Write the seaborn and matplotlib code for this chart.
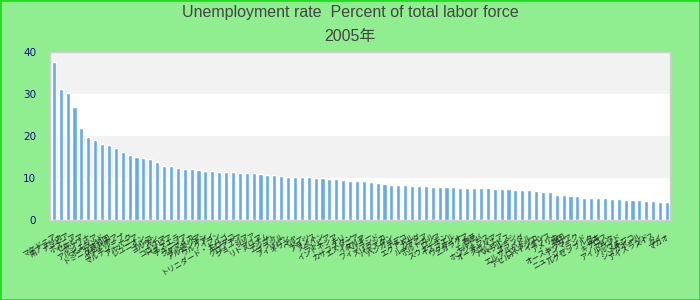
import matplotlib
matplotlib.use("Agg")
import matplotlib.pyplot as plt
from matplotlib.patches import Rectangle
import seaborn as sns
import pandas as pd

title_line1 = "Unemployment rate  Percent of total labor force"
title_line2 = "2005年"

countries = [
    "マケドニア", "南アフリカ", "ナミビア", "ボスニア", "セルビア",
    "ボツワナ", "アルジェリア", "ポーランド", "ドミニカ共和国", "スロバキア",
    "グアドループ", "マルティニーク", "アルバニア", "レユニオン", "トルコ",
    "ヨルダン", "パナマ", "コロンビア", "ベネズエラ", "チュニジア",
    "ジャマイカ", "ブルガリア", "アルゼンチン", "ウルグアイ", "イラン",
    "トリニダード・トバゴ", "モロッコ", "クロアチア", "ジョージア", "シリア",
    "リトアニア", "スリナム", "エジプト", "ブラジル", "フィリピン",
    "ギリシャ", "ペルー", "ドイツ", "フランス", "スペイン",
    "ラトビア", "インドネシア", "チリ", "カザフスタン", "エストニア",
    "イタリア", "ベルギー", "フィンランド", "スリランカ", "パキスタン",
    "ハンガリー", "チェコ", "エクアドル", "カナダ", "ルーマニア",
    "ポルトガル", "ロシア", "スウェーデン", "イスラエル", "ウクライナ",
    "ニカラグア", "香港", "モルドバ", "ホンジュラス", "オーストリア",
    "スロベニア", "バルバドス", "ベラルーシ", "オランダ", "エルサルバドル",
    "コスタリカ", "アゼルバイジャン", "イギリス", "アメリカ", "韓国",
    "オーストラリア", "デンマーク", "ニュージーランド", "ルクセンブルク", "日本",
    "キプロス", "マルタ", "アイルランド", "ノルウェー", "メキシコ",
    "シンガポール", "アイスランド", "スイス", "タイ", "マカオ",
]

rates = [
    37.4, 31.0, 30.1, 26.8, 21.8, 19.7, 19.0, 18.0, 17.8, 17.1,
    16.1, 15.4, 14.9, 14.7, 14.5, 13.7, 12.8, 12.8, 12.3, 12.1,
    12.1, 11.8, 11.6, 11.6, 11.4, 11.4, 11.4, 11.1, 11.1, 11.1,
    10.9, 10.7, 10.7, 10.4, 10.2, 10.2, 10.2, 10.2, 10.0, 10.0,
    9.7, 9.7, 9.5, 9.3, 9.3, 9.3, 9.0, 8.8, 8.5, 8.3,
    8.3, 8.3, 8.1, 8.1, 8.1, 7.8, 7.8, 7.8, 7.8, 7.6,
    7.6, 7.6, 7.6, 7.6, 7.3, 7.3, 7.3, 7.1, 7.1, 7.1,
    6.9, 6.6, 6.6, 5.9, 5.9, 5.7, 5.7, 5.2, 5.2, 5.2,
    5.2, 5.0, 5.0, 4.7, 4.7, 4.7, 4.5, 4.5, 4.3, 4.3,
]

yticks = [0, 10, 20, 30, 40]

sns.set_theme(style="white")
plt.rcParams['font.family'] = ['Liberation Sans', 'Noto Sans CJK JP', 'DejaVu Sans']

fig = plt.figure(figsize=(7, 3), dpi=100, facecolor='#90EE90')
ax = fig.add_axes([50 / 700, 80 / 300, 620 / 700, 168.5 / 300])
ax.set_facecolor('white')

df = pd.DataFrame({'country': countries, 'rate': rates})
sns.barplot(data=df, x='country', y='rate', order=countries, color='#64a9f2',
            saturation=1, width=0.6, ax=ax, zorder=3)

for lo, hi in [(10, 20), (30, 40)]:
    ax.axhspan(lo, hi, color='#f2f2f2', zorder=0, lw=0)

ax.set_ylim(0, 40)
ax.set_xlim(-0.55, len(countries) - 0.55)
ax.set_yticks(yticks)
ax.set_yticklabels([str(t) for t in yticks], color='#10108a', fontsize=7.5,
                   family=['DejaVu Sans'])
ax.tick_params(axis='y', length=0, pad=10)
ax.tick_params(axis='x', length=0, pad=9)
ax.set_xticks(range(len(countries)))
ax.set_xticklabels(countries, rotation=30, ha='right', va='top',
                   rotation_mode='anchor', fontsize=5.5,
                   family=['Noto Sans CJK JP', 'DejaVu Sans'], color='#222222')
ax.set_xlabel('')
ax.set_ylabel('')
ax.grid(False)
for s in ax.spines.values():
    s.set_color('#d0d0d0')
    s.set_linewidth(1)

fig.text(0.5, 1 - 13 / 300, title_line1, ha='center', va='center',
         fontsize=11.5, color='#444444')
fig.text(0.5, 1 - 36 / 300, title_line2, ha='center', va='center',
         fontsize=11.5, color='#444444',
         family=['Liberation Sans', 'Noto Sans CJK JP'])

fig.patches.append(Rectangle((0, 0), 1, 1, transform=fig.transFigure,
                             fill=False, edgecolor='#22dd22', lw=2))

fig.savefig('out.png', dpi=100, facecolor=fig.get_facecolor())
